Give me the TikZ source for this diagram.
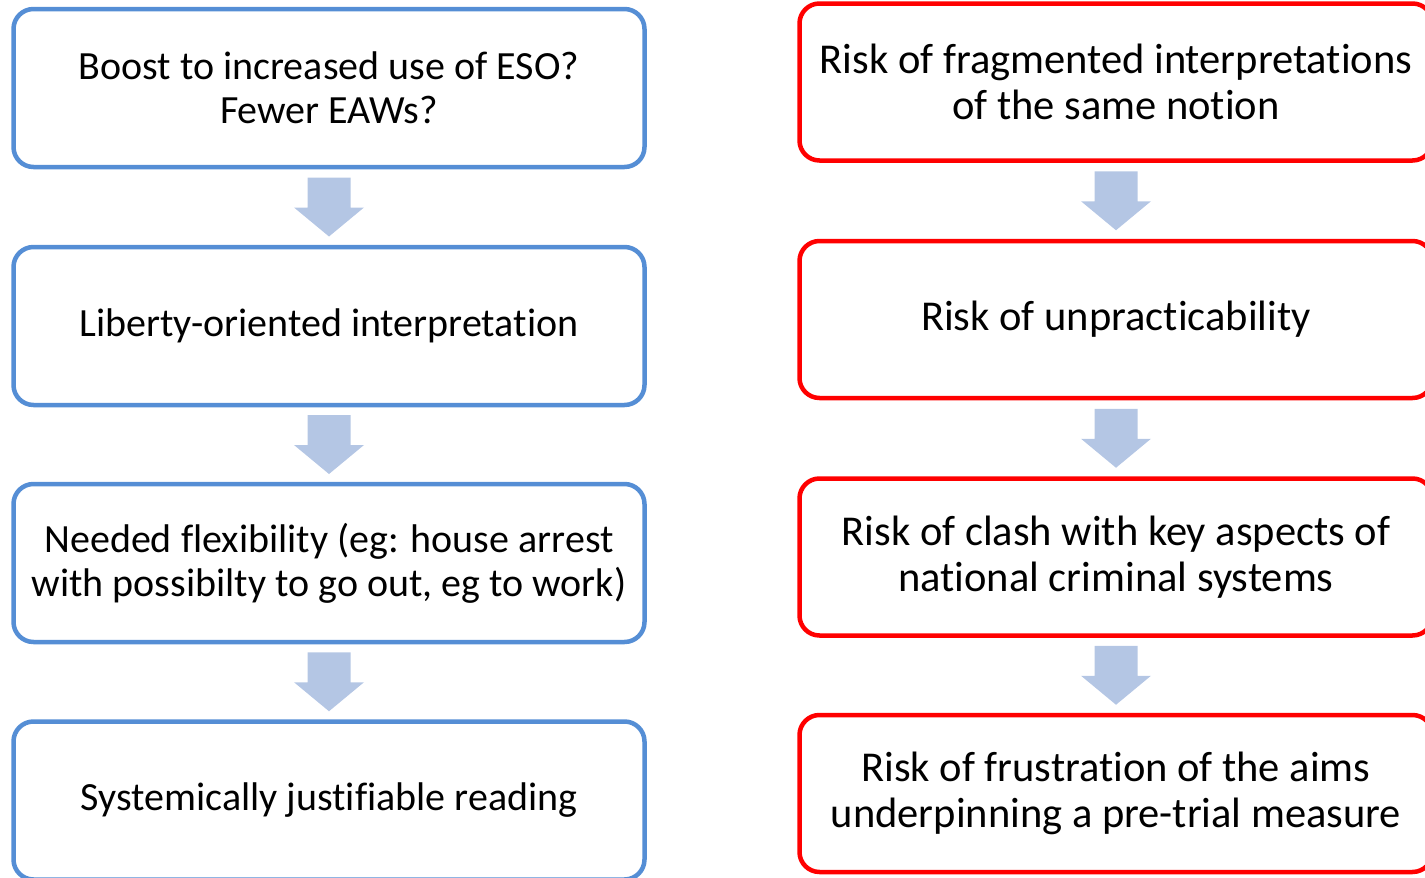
\documentclass[tikz,border=0pt]{standalone}
\usepackage{fontspec}
\setmainfont[Ligatures=NoCommon]{Carlito}
\usetikzlibrary{calc}
\definecolor{boxblue}{RGB}{85,142,213}
\definecolor{arrowfill}{RGB}{180,198,228}
\definecolor{boxred}{RGB}{255,0,0}
\tikzset{
  flowbox/.style={draw, line width=4.5pt, rounded corners=20pt, fill=white,
    align=center, inner sep=0pt},
  leftbox/.style={flowbox, draw=boxblue, minimum width=631pt, minimum height=158pt,
    font=\fontsize{40}{44}\selectfont},
  rightbox/.style={flowbox, draw=boxred, minimum width=633pt, minimum height=157pt,
    font=\fontsize{42.5}{46.5}\selectfont},
  blockarrow/.style={fill=arrowfill, draw=none}
}
\newcommand{\downblock}[2]{%
  \coordinate (m) at ($(#1.south)!0.5!(#2.north)$);
  \fill[blockarrow] ($(m)+(-21.5,-29.5)$) -- ($(m)+(21.5,-29.5)$) -- ($(m)+(21.5,0.5)$)
    -- ($(m)+(35,0.5)$) -- ($(m)+(0,29.5)$) -- ($(m)+(-35,0.5)$) -- ($(m)+(-21.5,0.5)$) -- cycle;
}
\begin{document}
\begin{tikzpicture}[x=1pt,y=-1pt]
\useasboundingbox (0,0) rectangle (1425,878);
\begin{scope}
\clip (0,0) rectangle (1425,878);
\node[leftbox] (l1) at (329,88) {Boost to increased use of ESO?\\Fewer EAWs?};
\node[leftbox] (l2) at (329,326) {Liberty-oriented interpretation};
\node[leftbox] (l3) at (329,563) {Needed flexibility (eg: house arrest\\with possibilty to go out, eg to work)};
\node[leftbox] (l4) at (329,800.5) {Systemically justifiable reading};
\node[rightbox] (r1) at (1116,82) {Risk of fragmented interpretations\\of the same notion};
\node[rightbox] (r2) at (1116,319.5) {Risk of unpracticability};
\node[rightbox] (r3) at (1116,557) {Risk of clash with key aspects of\\national criminal systems};
\node[rightbox] (r4) at (1116,793.5) {Risk of frustration of the aims\\underpinning a pre-trial measure};
\end{scope}
\downblock{l1}{l2}
\downblock{l2}{l3}
\downblock{l3}{l4}
\downblock{r1}{r2}
\downblock{r2}{r3}
\downblock{r3}{r4}
\end{tikzpicture}
\end{document}
